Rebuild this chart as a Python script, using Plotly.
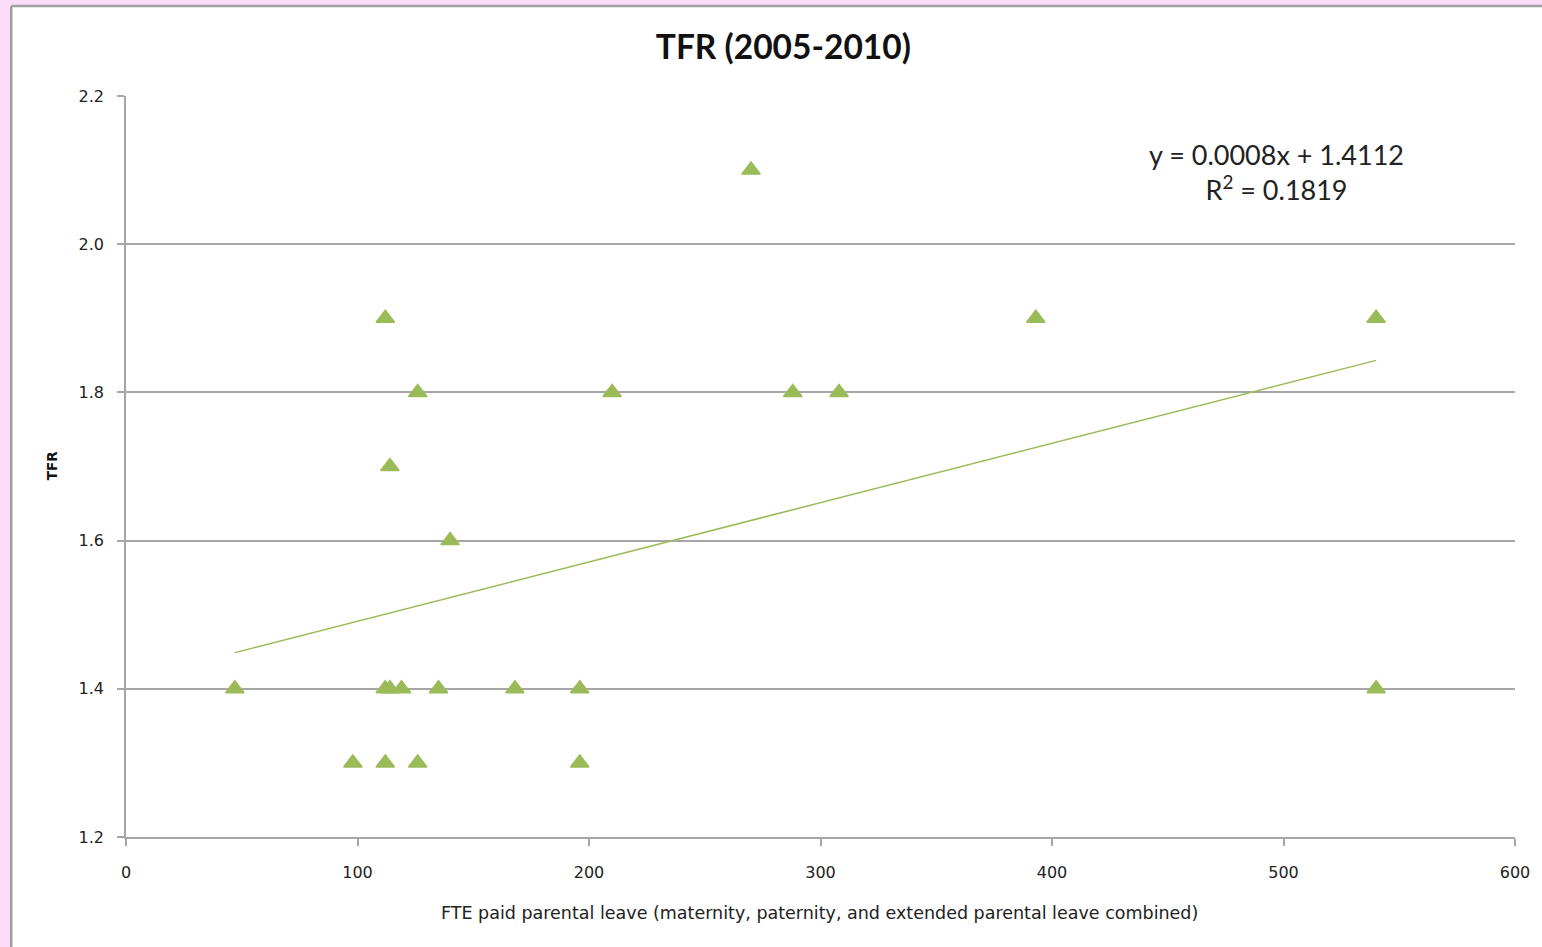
import plotly.graph_objects as go

# Data
leave_weeks = [47, 98, 112, 126, 196, 112, 114, 119, 135, 168, 196, 540,
               112, 393, 540, 126, 210, 288, 308, 114, 140, 270]
tfr_values = [1.4, 1.3, 1.3, 1.3, 1.3, 1.4, 1.4, 1.4, 1.4, 1.4, 1.4, 1.4,
              1.9, 1.9, 1.9, 1.8, 1.8, 1.8, 1.8, 1.7, 1.6, 2.1]
trend_slope = 0.0008
trend_intercept = 1.4112
r_squared = 0.1819
x_ticks = [0, 100, 200, 300, 400, 500, 600]
y_ticks = [1.2, 1.4, 1.6, 1.8, 2.0, 2.2]

GREEN = "#9BBB59"
GRID = "#A6A6A6"
TITLE_FONT = "Lato, 'Open Sans', sans-serif"
AXIS_FONT = "'DejaVu Sans', Verdana, sans-serif"

trend_x = [min(leave_weeks), max(leave_weeks)]
trend_y = [trend_slope * v + trend_intercept for v in trend_x]

fig = go.Figure()
fig.add_trace(go.Scatter(x=trend_x, y=trend_y, mode="lines",
                         line=dict(color=GREEN, width=1.5), showlegend=False,
                         hoverinfo="skip"))
fig.add_trace(go.Scatter(x=leave_weeks, y=tfr_values, mode="markers",
                         marker=dict(symbol="triangle-up", size=16, color=GREEN,
                                     line=dict(width=1.5, color=GREEN)),
                         showlegend=False))

fig.update_layout(
    width=1542, height=947,
    margin=dict(l=126, r=24, t=96, b=110),
    paper_bgcolor="white", plot_bgcolor="white",
    font=dict(family=AXIS_FONT, color="#222222"),
    title=dict(text="<b>TFR (2005-2010)</b>", x=0.508, xanchor="center",
               y=0.9504, yanchor="middle",
               font=dict(family=TITLE_FONT, size=33.5, color="#111111")),
    xaxis=dict(range=[0, 600], tickvals=x_ticks, showgrid=False,
               showline=True, linecolor=GRID, linewidth=1.5,
               ticks="outside", ticklen=7, tickcolor=GRID, tickwidth=1.5,
               ticklabelstandoff=13, tickfont=dict(size=16),
               zeroline=False),
    yaxis=dict(range=[1.2, 2.2], tickvals=y_ticks, tickformat=".1f",
               showgrid=True, gridcolor=GRID, gridwidth=1.5,
               showline=True, linecolor=GRID, linewidth=1.5,
               ticks="outside", ticklen=7, tickcolor=GRID, tickwidth=1.5,
               ticklabelstandoff=10, tickfont=dict(size=16),
               zeroline=False),
    annotations=[
        dict(text=f"y = {trend_slope:.4f}x + {trend_intercept:.4f}<br>R<sup>2</sup> = {r_squared:.4f}",
             x=(1279 - 126) / 1392, y=(837 - 172) / 741, xref="paper", yref="paper",
             xanchor="center", yanchor="middle", showarrow=False, align="center",
             font=dict(family=TITLE_FONT, size=27, color="#222222")),
        dict(text="FTE paid parental leave (maternity, paternity, and extended parental leave combined)",
             x=(821 - 126) / 1392, y=(837 - 913) / 741, xref="paper", yref="paper",
             xanchor="center", yanchor="middle", showarrow=False,
             font=dict(size=17.5, color="#222222")),
        dict(text="<b>TFR</b>", textangle=-90,
             x=(52 - 126) / 1392, y=(837 - 466) / 741, xref="paper", yref="paper",
             xanchor="center", yanchor="middle", showarrow=False,
             font=dict(size=13.5, color="#111111")),
    ],
    shapes=[
        dict(type="rect", xref="paper", yref="paper", x0=-0.1, x1=-0.0833,
             y0=-0.2, y1=1.2, fillcolor="#FCDDF8", line=dict(width=0), layer="below"),
        dict(type="rect", xref="paper", yref="paper", x0=-0.1, x1=1.1,
             y0=1.1228, y1=1.2, fillcolor="#FCDDF8", line=dict(width=0), layer="below"),
        dict(type="line", xref="paper", yref="paper", x0=-0.0826, x1=-0.0826,
             y0=-0.2, y1=1.1215, line=dict(color="#A0A0A0", width=2.5)),
        dict(type="line", xref="paper", yref="paper", x0=-0.0826, x1=1.1,
             y0=1.1215, y1=1.1215, line=dict(color="#A0A0A0", width=2.5)),
    ],
)

fig.write_html("out.html", config={"displayModeBar": False},
               post_script="document.body.style.margin='0';")
